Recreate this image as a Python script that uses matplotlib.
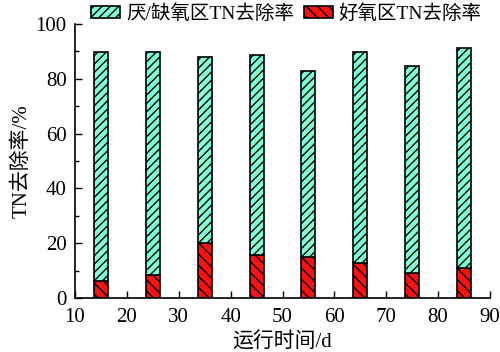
import matplotlib.pyplot as plt
import numpy as np

plt.rcParams['font.family'] = ['Liberation Serif', 'Noto Sans CJK SC']
plt.rcParams['hatch.linewidth'] = 1.0

days = [15, 25, 35, 45, 55, 65, 75, 85]
aerobic = [6.4, 8.3, 20.1, 15.9, 15.1, 12.7, 9.1, 11.1]
anoxic = [83.5, 81.3, 67.7, 72.6, 67.7, 77.0, 75.6, 80.1]

fig = plt.figure(figsize=(5, 3.52), dpi=100)
ax = fig.add_axes([0.15, 0.153, 0.83, 0.779])

w = 2.7
ax.bar(days, aerobic, width=w, color='#ff1010', edgecolor='black',
       hatch='\\\\\\', linewidth=1.2, label='好氧区TN去除率', zorder=2)
ax.bar(days, anoxic, width=w, bottom=aerobic, color='#7fffd4',
       edgecolor='black', hatch='////', linewidth=1.2,
       label='厌/缺氧区TN去除率', zorder=2)

ax.set_xlim(10, 90)
ax.set_ylim(0, 100)
ax.set_xticks(np.arange(10, 91, 10))
ax.set_yticks(np.arange(0, 101, 20))
ax.set_yticks(np.arange(10, 100, 20), minor=True)
ax.tick_params(direction='in', labelsize=15, length=5, width=1)
ax.tick_params(axis='x', pad=7)
ax.tick_params(axis='y', pad=6)
ax.tick_params(which='minor', direction='in', length=3, width=1)
ax.spines['top'].set_visible(False)
ax.spines['right'].set_visible(False)
for s in ('left', 'bottom'):
    ax.spines[s].set_linewidth(1.2)

ax.set_xlabel('运行时间/d', fontsize=15, labelpad=4)
ax.set_ylabel('TN去除率/%', fontsize=15, labelpad=3)

h, l = ax.get_legend_handles_labels()
ax.legend(h[::-1], l[::-1], ncol=2, frameon=False, fontsize=14,
          loc='upper left', bbox_to_anchor=(0.02, 1.1),
          handlelength=1.5, handleheight=0.6, handletextpad=0.3,
          columnspacing=0.5, borderaxespad=0)

fig.savefig('out.png', dpi=100)
